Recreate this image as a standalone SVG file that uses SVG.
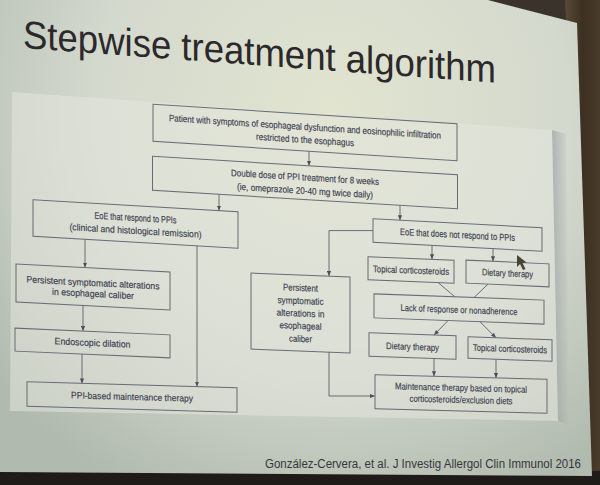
<svg xmlns="http://www.w3.org/2000/svg" width="600" height="485" viewBox="0 0 600 485">
<defs>
<radialGradient id="scr" cx="330" cy="110" r="430" gradientUnits="userSpaceOnUse">
<stop offset="0" stop-color="#e1e4cf"/>
<stop offset="0.55" stop-color="#d4d9ce"/>
<stop offset="1" stop-color="#b1baae"/>
</radialGradient>
<linearGradient id="wood" x1="0" x2="1" y1="0" y2="0">
<stop offset="0" stop-color="#5a4a35"/>
<stop offset="0.5" stop-color="#3c3022"/>
<stop offset="1" stop-color="#4a3b2a"/>
</linearGradient>
<linearGradient id="shd" x1="0" x2="1" y1="0" y2="0">
<stop offset="0" stop-color="#8e949e" stop-opacity="0.55"/>
<stop offset="1" stop-color="#8e949e" stop-opacity="0"/>
</linearGradient>
<marker id="ah" viewBox="0 0 5 5" refX="5" refY="2.5" markerWidth="5" markerHeight="5" markerUnits="userSpaceOnUse" orient="auto">
<path d="M0,0.4L5,2.5L0,4.6z" fill="#4a4f5c"/>
</marker>
</defs>
<style>
.box{fill:none;stroke:#676b76;stroke-width:1}
.t{font-family:"Liberation Sans",Arial,sans-serif;font-size:9.4px;fill:#3c4150;stroke:#3c4150;stroke-width:0.15;text-anchor:middle}
.c{fill:none;stroke:#5c606b;stroke-width:0.9}
.a{marker-end:url(#ah)}
</style>
<rect x="0" y="0" width="600" height="485" fill="#3a332b"/>
<polygon points="565,0 600,0 600,472 588,472" fill="url(#wood)"/>
<rect x="0" y="471" width="600" height="14" fill="#1f1b18"/>
<polygon points="0,0 488,0 577,23 592,476 0,472" fill="url(#scr)"/>
<polygon points="552,130 566,134 569,425 558,421" fill="url(#shd)"/>
<polygon points="12,92 552,130 558,421 10,411" fill="#e3e6dc" fill-opacity="0.55"/>
<text x="0" y="0" transform="translate(23,48) skewY(4.2)" font-family="'Liberation Sans',Arial,sans-serif" font-size="39" fill="#2c282b" textLength="473" lengthAdjust="spacingAndGlyphs">Stepwise treatment algorithm</text>
<text x="265" y="468" font-family="'Liberation Sans',Arial,sans-serif" font-size="12" fill="#36373c" textLength="316" lengthAdjust="spacingAndGlyphs">González-Cervera, et al. J Investig Allergol Clin Immunol 2016</text>
<g id="connectors">
<path class="c a" d="M309,151.3V165.7"/>
<path class="c a" d="M219,194.2V210.6"/>
<path class="c a" d="M400,205.3V220.2"/>
<path class="c a" d="M373,230.6H329V276.1"/>
<path class="c a" d="M85,239.3V267.6"/>
<path class="c a" d="M197,245.8V386.6"/>
<path class="c a" d="M83,305.5V331.1"/>
<path class="c a" d="M82,354V383.4"/>
<path class="c a" d="M432,245.4V259.3"/>
<path class="c a" d="M493,248.6V261.3"/>
<path class="c" d="M438,282.5L455,296.9"/>
<path class="c" d="M488,284.1L474,297.6"/>
<path class="c a" d="M448,320.6L434,335"/>
<path class="c a" d="M480,321.8L496,337.8"/>
<path class="c a" d="M434,358.5V376.3"/>
<path class="c a" d="M496,359.3V377.9"/>
<path class="c a" d="M329,352.1V396H374.8"/>
</g>
<g id="n1" transform="translate(305,132.5) skewY(3.7)">
<rect class="box" x="-152" y="-18.5" width="304" height="37"/>
<text class="t" x="0" y="-2.5" textLength="272" lengthAdjust="spacingAndGlyphs">Patient with symptoms of esophageal dysfunction and eosinophilic infiltration</text>
<text class="t" x="0" y="10.5" textLength="98" lengthAdjust="spacingAndGlyphs">restricted to the esophagus</text>
</g>
<g id="n2" transform="translate(305,182.5) skewY(3.5)">
<rect class="box" x="-152.5" y="-17" width="305" height="34"/>
<text class="t" x="0" y="-2" textLength="148" lengthAdjust="spacingAndGlyphs">Double dose of PPI treatment for 8 weeks</text>
<text class="t" x="0" y="11.5" textLength="136" lengthAdjust="spacingAndGlyphs">(ie, omeprazole 20-40 mg twice daily)</text>
</g>
<g id="n3" transform="translate(135.5,224) skewY(3.3)">
<rect class="box" x="-102.5" y="-18.25" width="205" height="36.5"/>
<text class="t" x="0" y="-3" textLength="82" lengthAdjust="spacingAndGlyphs">EoE that respond to PPIs</text>
<text class="t" x="0" y="10" textLength="132" lengthAdjust="spacingAndGlyphs">(clinical and histological remission)</text>
</g>
<g id="n4" transform="translate(457.5,235) skewY(3)">
<rect class="box" x="-84.5" y="-11.75" width="169" height="23.5"/>
<text class="t" x="0" y="3" textLength="115" lengthAdjust="spacingAndGlyphs">EoE that does not respond to PPIs</text>
</g>
<g id="n5" transform="translate(411,270) skewY(2.2)">
<rect class="box" x="-43" y="-11.5" width="86" height="23"/>
<text class="t" x="0" y="3.5" textLength="76" lengthAdjust="spacingAndGlyphs">Topical corticosteroids</text>
</g>
<g id="n6" transform="translate(507.5,273.5) skewY(2.6)">
<rect class="box" x="-41.5" y="-11.5" width="83" height="23"/>
<text class="t" x="0" y="3" textLength="51" lengthAdjust="spacingAndGlyphs">Dietary therapy</text>
</g>
<g id="n7" transform="translate(459,309) skewY(2.1)">
<rect class="box" x="-85" y="-12" width="170" height="24"/>
<text class="t" x="0" y="4" textLength="117" lengthAdjust="spacingAndGlyphs">Lack of response or nonadherence</text>
</g>
<g id="n8" transform="translate(412.5,346) skewY(2)">
<rect class="box" x="-43.5" y="-11.75" width="87" height="23.5"/>
<text class="t" x="0" y="4" textLength="53" lengthAdjust="spacingAndGlyphs">Dietary therapy</text>
</g>
<g id="n9" transform="translate(510,349) skewY(2)">
<rect class="box" x="-42" y="-10.75" width="84" height="21.5"/>
<text class="t" x="0" y="3" textLength="74" lengthAdjust="spacingAndGlyphs">Topical corticosteroids</text>
</g>
<g id="n10" transform="translate(461,394) skewY(1.5)">
<rect class="box" x="-86" y="-17" width="172" height="34"/>
<text class="t" x="0" y="-3" textLength="132" lengthAdjust="spacingAndGlyphs">Maintenance therapy based on topical</text>
<text class="t" x="0" y="9" textLength="103" lengthAdjust="spacingAndGlyphs">corticosteroids/exclusion diets</text>
</g>
<g id="n11" transform="translate(93,287) skewY(3)">
<rect class="box" x="-77" y="-19" width="154" height="38"/>
<text class="t" x="0" y="-1" textLength="133" lengthAdjust="spacingAndGlyphs">Persistent symptomatic alterations</text>
<text class="t" x="0" y="10" textLength="82" lengthAdjust="spacingAndGlyphs">in esophageal caliber</text>
</g>
<g id="n12" transform="translate(92.5,343) skewY(2.5)">
<rect class="box" x="-77.5" y="-11.5" width="155" height="23"/>
<text class="t" x="0" y="3" textLength="76" lengthAdjust="spacingAndGlyphs">Endoscopic dilation</text>
</g>
<g id="n13" transform="translate(132,397) skewY(1.6)">
<rect class="box" x="-105" y="-12.25" width="210" height="24.5"/>
<text class="t" x="0" y="3" textLength="122" lengthAdjust="spacingAndGlyphs">PPI-based maintenance therapy</text>
</g>
<g id="n14" transform="translate(300.5,313) skewY(2.3)">
<rect class="box" x="-49.5" y="-38" width="99" height="76"/>
<text class="t" x="0" y="-22" textLength="35" lengthAdjust="spacingAndGlyphs">Persistent</text>
<text class="t" x="0" y="-9" textLength="46" lengthAdjust="spacingAndGlyphs">symptomatic</text>
<text class="t" x="0" y="3.5" textLength="48" lengthAdjust="spacingAndGlyphs">alterations in</text>
<text class="t" x="0" y="16" textLength="42" lengthAdjust="spacingAndGlyphs">esophageal</text>
<text class="t" x="0" y="29" textLength="23" lengthAdjust="spacingAndGlyphs">caliber</text>
</g>
<polygon points="517,255 517,267 520,264 523,270 525.5,269 522.5,263 526.5,262.5" fill="#4a4234"/>
</svg>
